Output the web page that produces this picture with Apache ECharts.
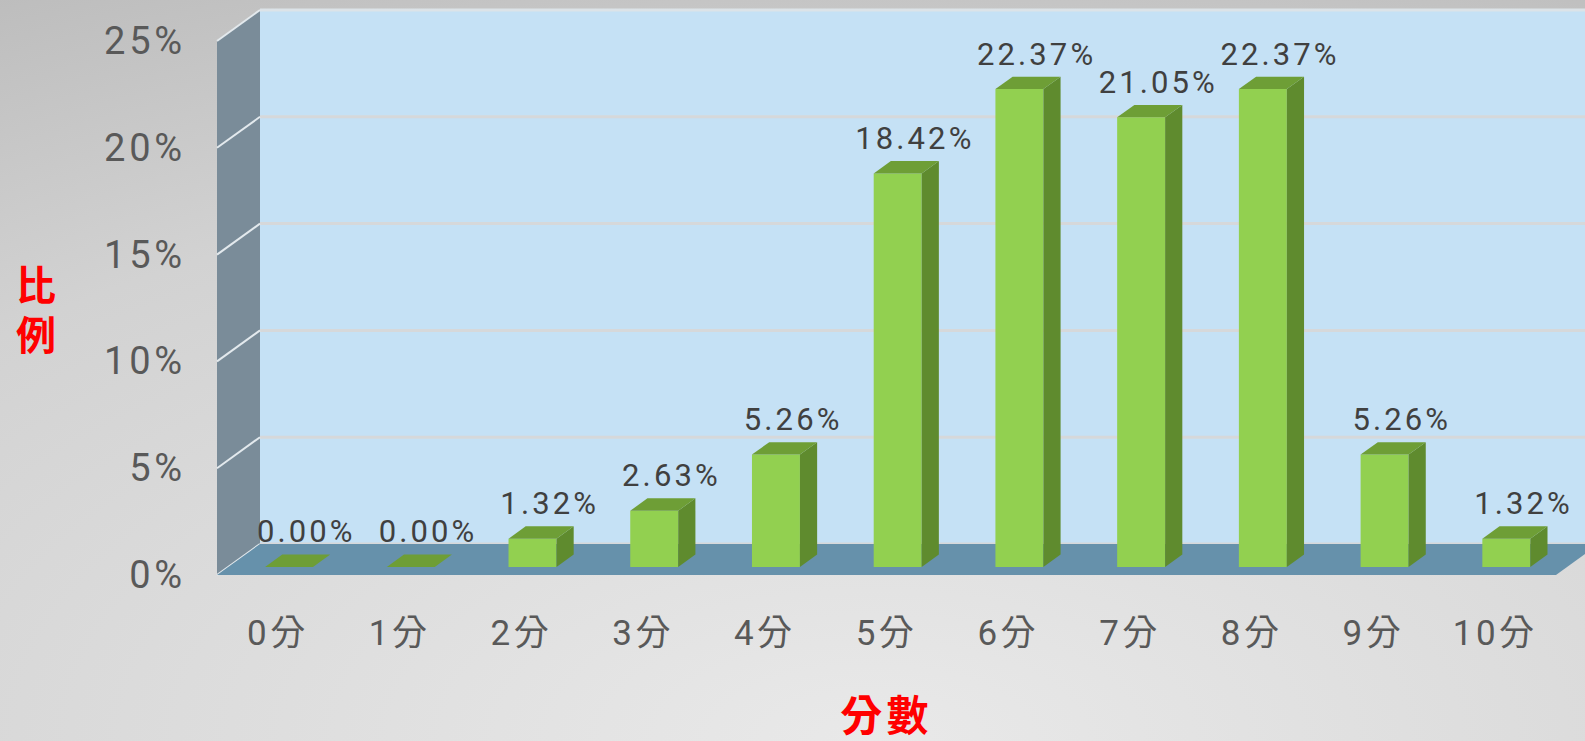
<!DOCTYPE html>
<html>
<head>
<meta charset="utf-8">
<style>
  html, body { margin: 0; padding: 0; }
  #main { width: 1585px; height: 741px; }
  #main text { letter-spacing: 0.1em; }
</style>
<script src="https://cdn.jsdelivr.net/npm/echarts@6/dist/echarts.min.js"></script>
</head>
<body>
<div id="main"></div>
<script>
// 分數分布 (比例 %)
const categories = ['0分', '1分', '2分', '3分', '4分', '5分', '6分', '7分', '8分', '9分', '10分'];
const ratios = [0, 0, 1.32, 2.63, 5.26, 18.42, 22.37, 21.05, 22.37, 5.26, 1.32];
const yTicks = [0, 5, 10, 15, 20, 25];

// 立體效果：後牆相對前面的偏移 (px)
const DEPTH_X = 43, DEPTH_Y = -31;
// 柱子在深度方向的位置 (0 = 前, 1 = 後) 和寬度 (佔類別寬度)
const BAR_FRONT = 0.26, BAR_BACK = 0.66, BAR_WIDTH = 0.394;

const font = 'Roboto, "Noto Sans CJK TC", sans-serif';

function renderWalls(params, api) {
  const cs = params.coordSys;
  const x0 = cs.x, x1 = cs.x + cs.width;
  const yBottom = api.coord([0, yTicks[0]])[1];
  const yTop = api.coord([0, yTicks[yTicks.length - 1]])[1];
  const children = [];
  // 後牆
  children.push({
    type: 'rect',
    shape: { x: x0 + DEPTH_X, y: yTop + DEPTH_Y, width: cs.width, height: yBottom - yTop },
    style: { fill: '#c5e1f5' }
  });
  yTicks.forEach(function (v) {
    const y = api.coord([0, v])[1] + DEPTH_Y;
    children.push({
      type: 'line',
      shape: { x1: x0 + DEPTH_X, y1: y, x2: x1 + DEPTH_X, y2: y },
      style: { stroke: v === yTicks[yTicks.length - 1] ? '#dce3e8' : '#d6d8da', lineWidth: 3 }
    });
  });
  // 側牆
  children.push({
    type: 'polygon',
    shape: { points: [[x0, yBottom], [x0, yTop], [x0 + DEPTH_X, yTop + DEPTH_Y], [x0 + DEPTH_X, yBottom + DEPTH_Y]] },
    style: { fill: '#7a8c99' }
  });
  yTicks.forEach(function (v) {
    const y = api.coord([0, v])[1];
    children.push({
      type: 'line',
      shape: { x1: x0, y1: y, x2: x0 + DEPTH_X, y2: y + DEPTH_Y },
      style: { stroke: '#e3e9ed', lineWidth: 2 }
    });
  });
  // 地板
  children.push({
    type: 'polygon',
    shape: { points: [[x0, yBottom], [x1, yBottom], [x1 + DEPTH_X, yBottom + DEPTH_Y], [x0 + DEPTH_X, yBottom + DEPTH_Y]] },
    style: { fill: '#6691ab' }
  });
  return { type: 'group', children: children };
}

function renderBar(params, api) {
  const i = api.value(0), v = api.value(1);
  const top = api.coord([i, v]);
  const base = api.coord([i, 0]);
  const band = api.size([1, 0])[0];
  const w = band * BAR_WIDTH;
  const fx = BAR_FRONT * DEPTH_X, fy = BAR_FRONT * DEPTH_Y;
  const dx = (BAR_BACK - BAR_FRONT) * DEPTH_X, dy = (BAR_BACK - BAR_FRONT) * DEPTH_Y;
  const xl = top[0] - w / 2 + fx, xr = xl + w;
  const yt = top[1] + fy, yb = base[1] + fy;
  return {
    type: 'group',
    children: [
      { type: 'rect', shape: { x: xl, y: yt, width: w, height: yb - yt }, style: { fill: '#92d050' } },
      { type: 'polygon', shape: { points: [[xr, yt], [xr, yb], [xr + dx, yb + dy], [xr + dx, yt + dy]] }, style: { fill: '#5f8b2e' } },
      { type: 'polygon', shape: { points: [[xl, yt], [xr, yt], [xr + dx, yt + dy], [xl + dx, yt + dy]] }, style: { fill: '#6e9e36' } },
      {
        type: 'text',
        style: {
          text: v.toFixed(2) + '%',
          x: top[0] + BAR_BACK * DEPTH_X,
          y: yt - 35,
          align: 'center',
          verticalAlign: 'middle',
          fill: '#404040',
          fontSize: 31,
          fontFamily: font
        }
      }
    ]
  };
}

const chart = echarts.init(document.getElementById('main'), null, { renderer: 'svg' });
chart.setOption({
  backgroundColor: new echarts.graphic.RadialGradient(0.55, 1, 1.55, [
    { offset: 0, color: '#e9e9e9' },
    { offset: 0.5, color: '#d2d2d2' },
    { offset: 1, color: '#a6a6a6' }
  ]),
  animation: false,
  grid: { left: 217, right: 29, top: 41, bottom: 166 },
  xAxis: {
    type: 'category',
    data: categories,
    name: '分數',
    nameLocation: 'middle',
    nameGap: 137,
    nameTextStyle: { color: '#ff0000', fontSize: 42, fontWeight: 'bold', fontFamily: '"Noto Sans CJK TC"', verticalAlign: 'middle' },
    axisLine: { show: false },
    axisTick: { show: false },
    axisLabel: { color: '#595959', fontSize: 35, fontFamily: font, margin: 58, verticalAlign: 'middle' }
  },
  yAxis: {
    type: 'value',
    min: yTicks[0],
    max: yTicks[yTicks.length - 1],
    interval: 5,
    name: '比\n例',
    nameLocation: 'middle',
    nameRotate: 0,
    nameGap: 179,
    nameTextStyle: { color: '#ff0000', fontSize: 40, fontWeight: 'bold', fontFamily: '"Noto Sans CJK TC"', align: 'center', verticalAlign: 'middle', lineHeight: 50 },
    axisLine: { show: false },
    axisTick: { show: false },
    splitLine: { show: false },
    axisLabel: { color: '#595959', fontSize: 38, fontFamily: font, margin: 31, formatter: '{value}%' }
  },
  series: [
    {
      type: 'custom',
      renderItem: renderWalls,
      data: [[0, 0]],
      z: 1,
      silent: true
    },
    {
      type: 'custom',
      renderItem: renderBar,
      data: ratios.map(function (v, i) { return [i, v]; }),
      z: 2
    }
  ]
});
</script>
</body>
</html>
